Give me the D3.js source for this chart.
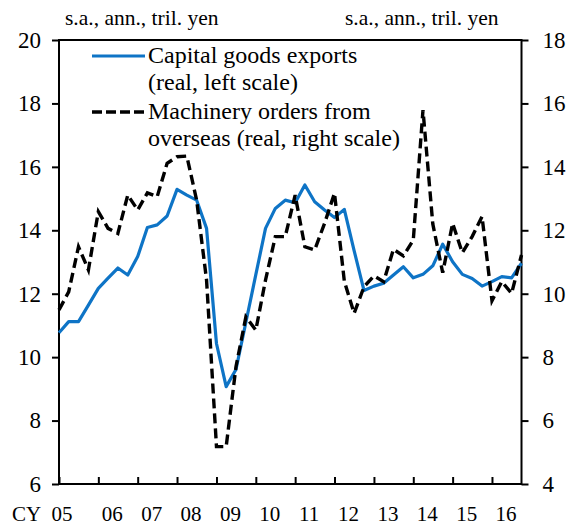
<!DOCTYPE html>
<html>
<head>
<meta charset="utf-8">
<script src="https://cdn.jsdelivr.net/npm/d3@7"></script>
<style>
body { margin: 0; background: #fff; }
svg text { font-family: 'Liberation Serif', 'DejaVu Serif', serif; fill: #000; }
</style>
</head>
<body>
<svg class="canvas" width="572" height="529"></svg>
<script>
// quarterly, CY2005Q1 - CY2016Q4
var yearLabels = ["05","06","07","08","09","10","11","12","13","14","15","16"];
var leftTicks = [6, 8, 10, 12, 14, 16, 18, 20];
var rightTicks = [4, 6, 8, 10, 12, 14, 16, 18];

// capital goods exports (real, left scale)
var exportsReal = [10.77, 11.12, 11.12, 11.64, 12.17, 12.49, 12.81, 12.59,
	13.17, 14.09, 14.17, 14.45, 15.29, 15.11, 14.95, 14.06,
	10.43, 9.07, 9.61, 11.1, 12.6, 14.06, 14.69, 14.95,
	14.87, 15.43, 14.9, 14.64, 14.4, 14.66, 13.36, 12.1,
	12.24, 12.33, 12.59, 12.85, 12.5, 12.61, 12.88, 13.56,
	13.01, 12.61, 12.48, 12.24, 12.38, 12.54, 12.5, 12.96];

// machinery orders from overseas (real, right scale)
var ordersReal = [9.49, 10.06, 11.48, 10.75, 12.59, 12.06, 11.9, 13.11,
	12.64, 13.18, 13.06, 14.11, 14.32, 14.34, 12.95, 10.43,
	5.18, 5.18, 7.7, 9.27, 8.85, 10.43, 11.8, 11.8,
	13.11, 11.48, 11.38, 12.22, 13.17, 10.4, 9.38, 10.22,
	10.56, 10.38, 11.4, 11.19, 11.69, 15.79, 12.2, 10.66,
	12.22, 11.29, 11.8, 12.43, 9.78, 10.38, 10.01, 11.22];

(function(){
	var quarters = [];
	for (var i = 0; i < exportsReal.length; i++) {
		quarters.push(new Date(2005 + Math.floor(i / 4), (i % 4) * 3, 1));
	}

	var pl = 59, pr = 521.5, pt = 40, pb = 484;
	var serif = "'Liberation Serif', 'DejaVu Serif', serif";
	var svg = d3.select(".canvas").attr("font-family", serif);

	var x = d3.scaleTime()
		.domain([quarters[0], quarters[quarters.length - 1]])
		.range([pl, pr]);
	var yL = d3.scaleLinear().domain([6, 20]).range([pb, pt]);
	var yR = d3.scaleLinear().domain([4, 18]).range([pb, pt]);

	// frame
	svg.append("rect")
		.attr("x", pl).attr("y", pt)
		.attr("width", pr - pl).attr("height", pb - pt)
		.attr("fill", "none").attr("stroke", "#000").attr("stroke-width", 2);

	var axL = svg.append("g")
		.attr("transform", "translate(" + pl + ",0)")
		.call(d3.axisLeft(yL).tickValues(leftTicks).tickSize(7).tickPadding(11));
	var axR = svg.append("g")
		.attr("transform", "translate(" + pr + ",0)")
		.call(d3.axisRight(yR).tickValues(rightTicks).tickSize(7).tickPadding(14));
	var yearDates = yearLabels.map(function(d){ return new Date(2000 + (+d), 0, 1); });
	var axB = svg.append("g")
		.attr("transform", "translate(0," + pb + ")")
		.call(d3.axisBottom(x).tickValues(yearDates).tickSize(-7).tickFormat(""));

	[axL, axR, axB].forEach(function(g){
		g.attr("font-family", serif).attr("font-size", 23);
		g.select(".domain").remove();
		g.selectAll(".tick line").attr("stroke", "#000").attr("stroke-width", 2);
		g.selectAll(".tick text").attr("fill", "#000");
	});

	// year labels
	svg.selectAll(".yr").data(yearLabels).enter().append("text")
		.attr("class", "yr")
		.attr("x", function(d, i){ return i == 0 ? x(yearDates[i]) + 3 : x(yearDates[i]) + 14; })
		.attr("y", 521)
		.attr("text-anchor", "middle")
		.attr("font-size", 21)
		.text(function(d){ return d; });
	svg.append("text").attr("x", 12).attr("y", 521).attr("font-size", 21).text("CY");

	// units
	svg.append("text").attr("x", 65).attr("y", 25).attr("font-size", 21.5).text("s.a., ann., tril. yen");
	svg.append("text").attr("x", 345).attr("y", 25).attr("font-size", 21.5).text("s.a., ann., tril. yen");

	// lines
	var lineL = d3.line().x(function(d, i){ return x(quarters[i]); }).y(function(d){ return yL(d); });
	var lineR = d3.line().x(function(d, i){ return x(quarters[i]); }).y(function(d){ return yR(d); });

	svg.append("path").datum(exportsReal)
		.attr("d", lineL)
		.attr("fill", "none").attr("stroke", "#0E74C6").attr("stroke-width", 3.2)
		.attr("stroke-linejoin", "round");
	svg.append("path").datum(ordersReal)
		.attr("d", lineR)
		.attr("fill", "none").attr("stroke", "#000").attr("stroke-width", 3.4)
		.attr("stroke-dasharray", "10,5");

	// legend
	svg.append("line").attr("x1", 92).attr("x2", 145).attr("y1", 56).attr("y2", 56)
		.attr("stroke", "#0E74C6").attr("stroke-width", 3.2);
	svg.append("line").attr("x1", 92).attr("x2", 145).attr("y1", 112).attr("y2", 112)
		.attr("stroke", "#000").attr("stroke-width", 3.4).attr("stroke-dasharray", "10,4");
	var legendLines = [["Capital goods exports", 63], ["(real, left scale)", 90],
		["Machinery orders from", 119], ["overseas (real, right scale)", 146]];
	legendLines.forEach(function(l){
		svg.append("text").attr("x", 148).attr("y", l[1]).attr("font-size", 24).text(l[0]);
	});
})();
</script>
</body>
</html>
